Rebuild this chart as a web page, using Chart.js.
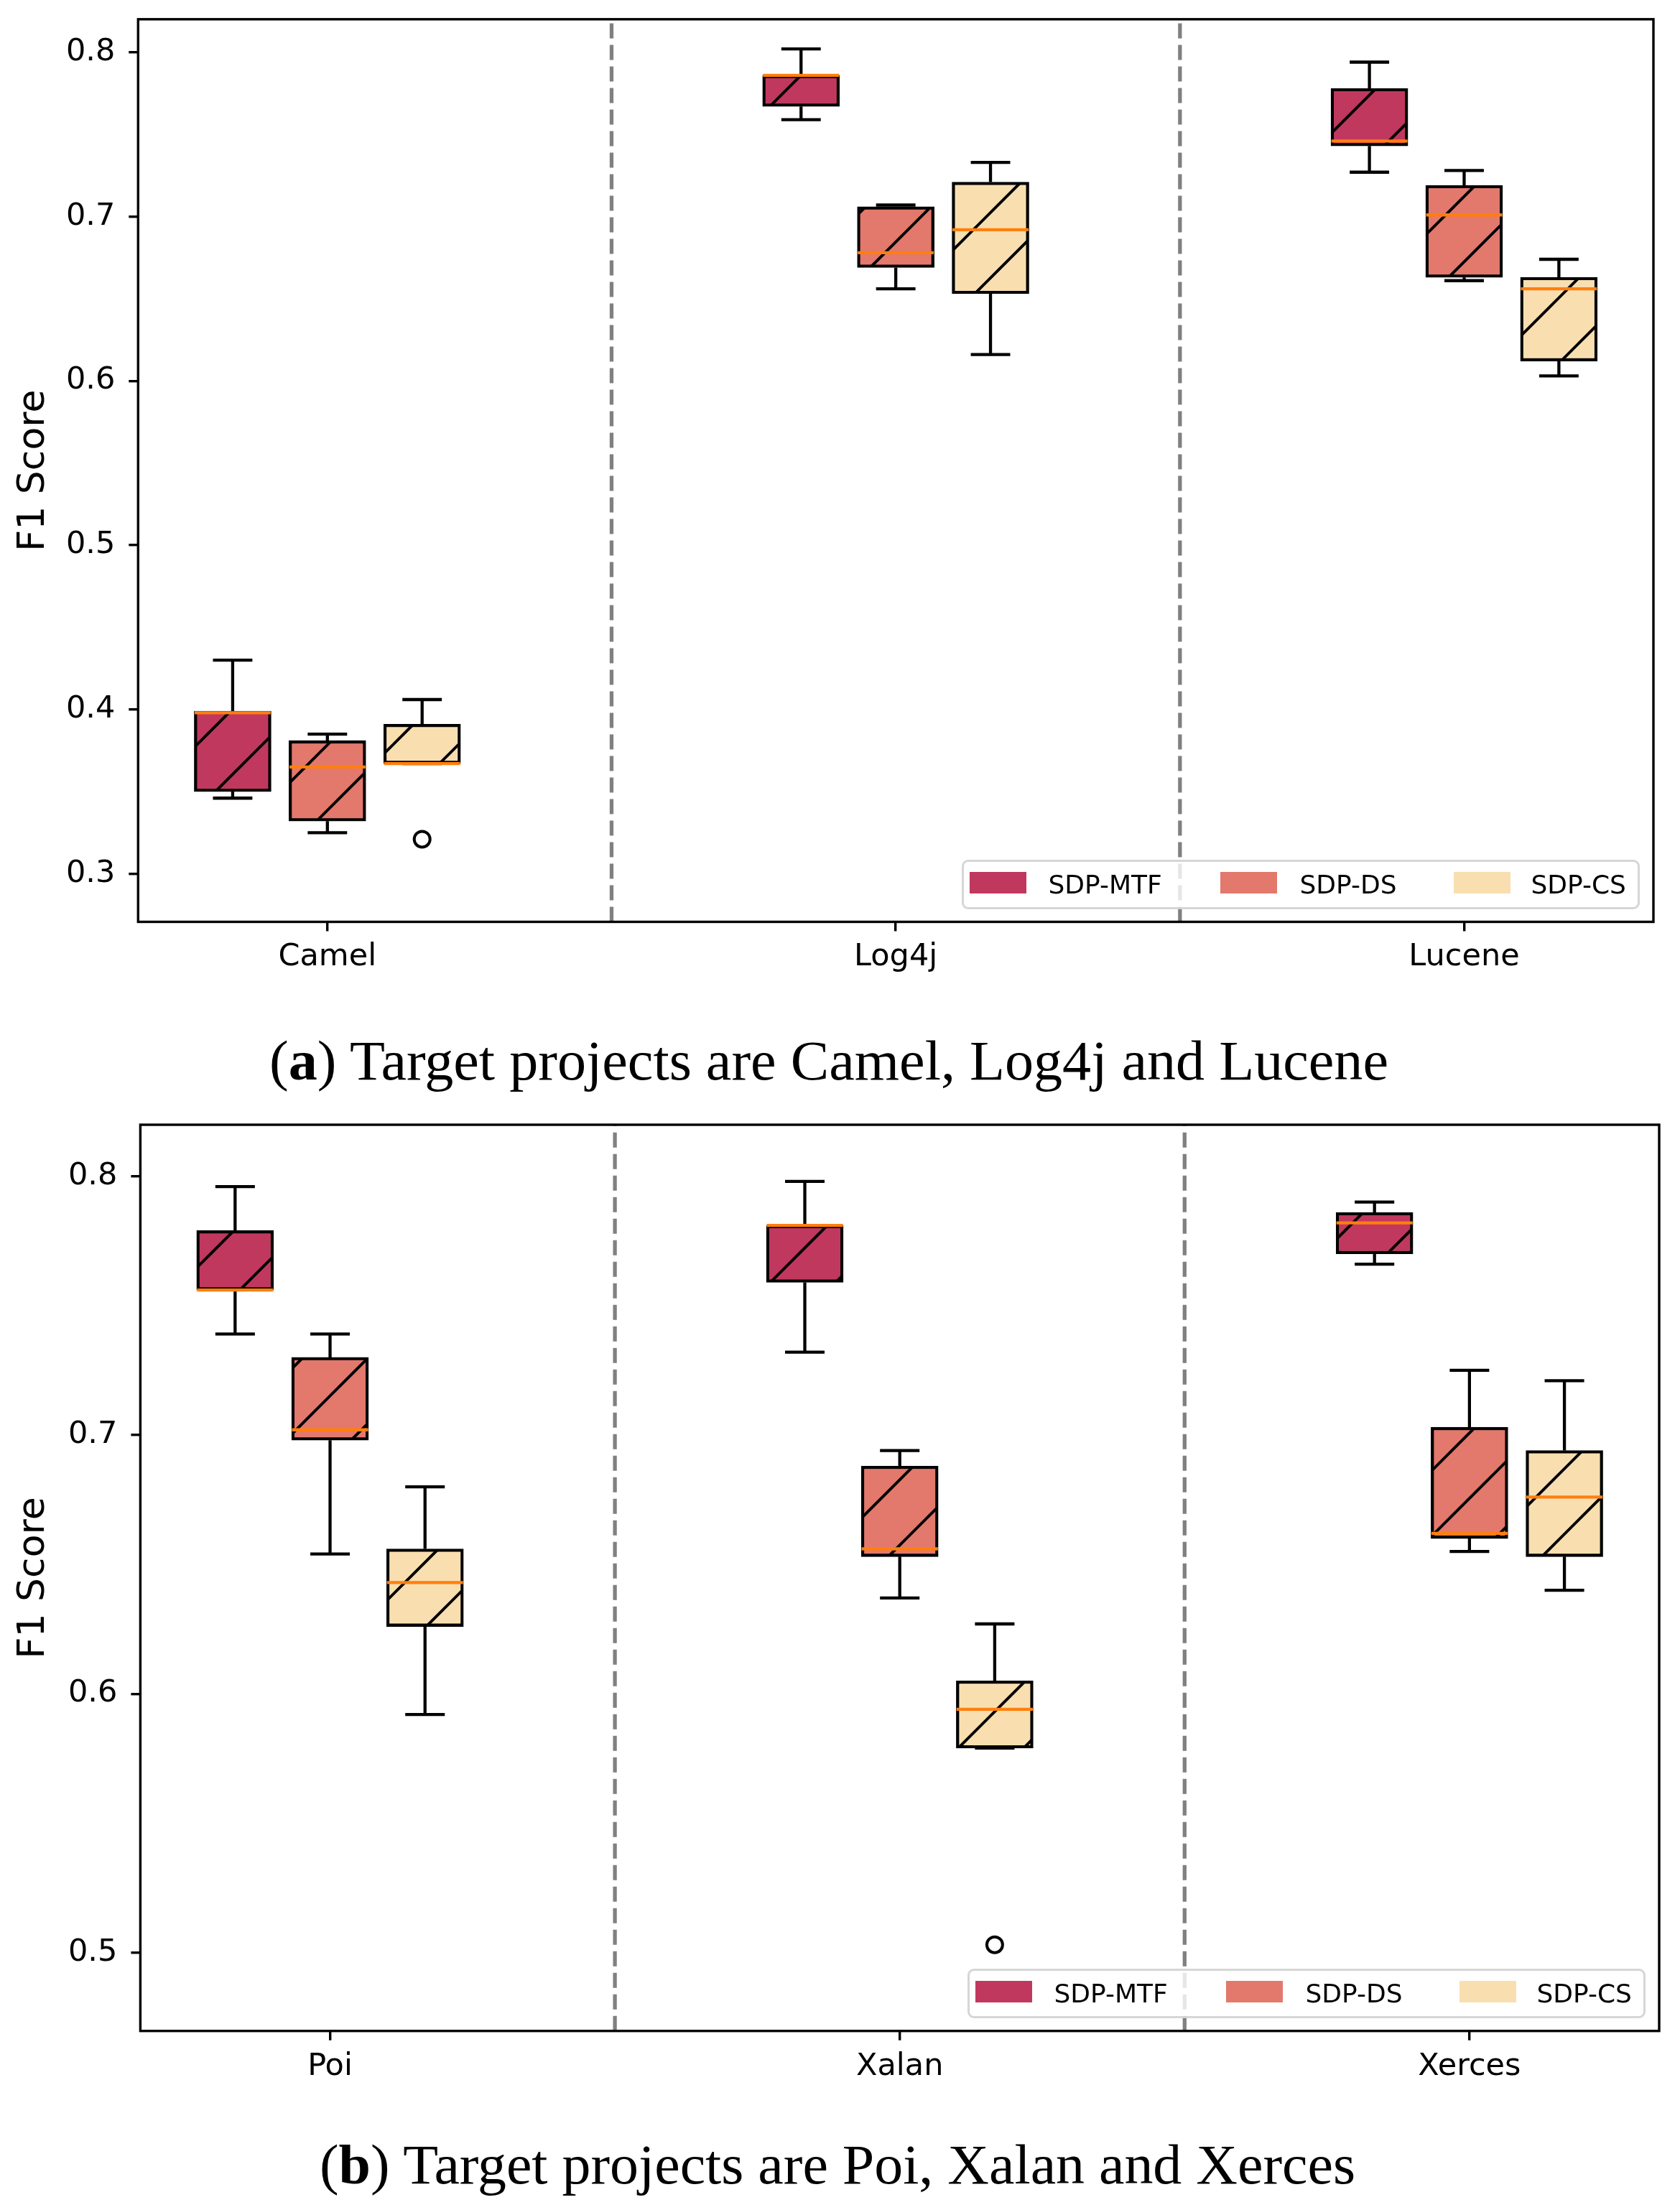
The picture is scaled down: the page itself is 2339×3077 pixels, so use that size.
<!DOCTYPE html>
<html>
<head>
<meta charset="utf-8">
<script src="https://cdn.jsdelivr.net/npm/chart.js@4.4.1/dist/chart.umd.min.js"></script>
<style>
  html, body { margin: 0; padding: 0; background: #fff; }
  body { width: 2339px; height: 3077px; position: relative; overflow: hidden; }
  canvas { position: absolute; left: 0; }
  .legend { position: absolute; width: 944px; height: 69px; box-sizing: border-box;
            border: 3px solid rgba(204,204,204,0.8); border-radius: 9px; background: rgba(255,255,255,0.8);
            font-family: 'DejaVu Sans', sans-serif; font-size: 36px; color: #000; }
  .legend .sw { position: absolute; top: 14px; width: 79px; height: 30px; }
  .legend .lb { position: absolute; top: 0; line-height: 63px; white-space: nowrap; }
  .cap { position: absolute; white-space: nowrap; font-family: 'Liberation Serif', serif; font-size: 78px;
         line-height: 78px; color: #000; transform-origin: 0 0; }
</style>
</head>
<body>
<canvas id="chartA" width="2339" height="1380" style="top:0px;width:2339px;height:1380px"></canvas>
<canvas id="chartB" width="2339" height="1380" style="top:1540px;width:2339px;height:1380px"></canvas>
<div class="legend" id="legendA"></div>
<div class="legend" id="legendB"></div>
<div class="cap" id="capA" style="left:375px;top:1438px"><span>(<b>a</b>) Target projects are Camel, Log4j and Lucene</span></div>
<div class="cap" id="capB" style="left:445px;top:2975px"><span>(<b>b</b>) Target projects are Poi, Xalan and Xerces</span></div>
<script>
const methods = ['SDP-MTF', 'SDP-DS', 'SDP-CS'];
const colors = ['#C0385E', '#E3786C', '#F9DFB0'];

// each row: [low whisker, Q1, median, Q3, high whisker]
const projectsA = ['Camel', 'Log4j', 'Lucene'];
const mtfA = [[0.346, 0.350, 0.398, 0.399, 0.430], [0.759, 0.767, 0.786, 0.786, 0.802], [0.727, 0.743, 0.746, 0.778, 0.794]];
const dsA  = [[0.325, 0.332, 0.365, 0.381, 0.385], [0.656, 0.669, 0.678, 0.706, 0.707], [0.661, 0.663, 0.701, 0.719, 0.728]];
const csA  = [[0.367, 0.367, 0.367, 0.391, 0.406], [0.616, 0.653, 0.692, 0.721, 0.733], [0.603, 0.612, 0.656, 0.663, 0.674]];
const mtfOutA = [[], [], []];
const dsOutA  = [[], [], []];
const csOutA  = [[0.321], [], []];
const yTicksA = [0.3, 0.4, 0.5, 0.6, 0.7, 0.8];
const yRangeA = [0.2707, 0.8201];

const projectsB = ['Poi', 'Xalan', 'Xerces'];
const mtfB = [[0.739, 0.756, 0.756, 0.779, 0.796], [0.732, 0.759, 0.781, 0.781, 0.798], [0.766, 0.770, 0.782, 0.786, 0.790]];
const dsB  = [[0.654, 0.698, 0.702, 0.730, 0.739], [0.637, 0.653, 0.656, 0.688, 0.694], [0.655, 0.660, 0.662, 0.703, 0.725]];
const csB  = [[0.592, 0.626, 0.643, 0.656, 0.680], [0.579, 0.579, 0.594, 0.605, 0.627], [0.640, 0.653, 0.676, 0.694, 0.721]];
const mtfOutB = [[], [], []];
const dsOutB  = [[], [], []];
const csOutB  = [[], [0.503], []];
const yTicksB = [0.5, 0.6, 0.7, 0.8];
const yRangeB = [0.4697, 0.8199];

const OFFSETS = [-1 / 6, 0, 1 / 6];
const BOX_W = 0.1338;
const CAP_W = 0.0694;

Chart.defaults.font.family = "'DejaVu Sans', sans-serif";
Chart.defaults.color = '#000';

function hatch(ctx, color, canvasTop) {
  const p = 91;
  const tile = document.createElement('canvas');
  tile.width = p; tile.height = p;
  const g = tile.getContext('2d');
  g.fillStyle = color;
  g.fillRect(0, 0, p, p);
  g.strokeStyle = '#000';
  g.lineWidth = 4;
  const phase = (((37 - canvasTop) % p) + p) % p;
  for (let k = -1; k <= 2; k++) {
    const s = phase + k * p;
    g.beginPath();
    g.moveTo(-p, s + p);
    g.lineTo(s + p, -p);
    g.stroke();
  }
  return ctx.createPattern(tile, 'repeat');
}

// list of [x0, y0, x1, y1] -> points with gaps between segments
function segs(list) {
  const out = [];
  list.forEach(([x0, y0, x1, y1]) => {
    out.push({x: x0, y: y0}, {x: x1, y: y1}, {x: x1, y: null});
  });
  return out;
}

const framePlugin = {
  id: 'frame',
  afterDraw(chart) {
    const {ctx, chartArea: a} = chart;
    ctx.save();
    ctx.strokeStyle = '#000';
    ctx.lineWidth = 3.4;
    ctx.strokeRect(a.left, a.top, a.right - a.left, a.bottom - a.top);
    ctx.restore();
  }
};

function buildChart(id, canvasTop, projects, boxes, outs, yTicks, yRange, lay) {
  const canvas = document.getElementById(id);
  const ctx = canvas.getContext('2d');

  const whisk = [], med = [], fliers = [];
  boxes.forEach((rows, m) => {
    rows.forEach((r, i) => {
      const xc = i + OFFSETS[m];
      whisk.push([xc, r[3], xc, r[4]], [xc, r[1], xc, r[0]],
                 [xc - CAP_W / 2, r[4], xc + CAP_W / 2, r[4]],
                 [xc - CAP_W / 2, r[0], xc + CAP_W / 2, r[0]]);
      med.push([xc - BOX_W / 2, r[2], xc + BOX_W / 2, r[2]]);
      outs[m][i].forEach(v => fliers.push({x: xc, y: v}));
    });
  });

  const lineBase = {type: 'line', pointRadius: 0, pointHoverRadius: 0, fill: false, tension: 0, spanGaps: false};

  const datasets = [
    ...boxes.map((rows, m) => ({
      type: 'bar',
      label: methods[m],
      order: 3,
      data: rows.map((r, i) => ({x: i + OFFSETS[m], y: [r[1], r[3]]})),
      backgroundColor: hatch(ctx, colors[m], canvasTop),
      borderColor: '#000',
      borderWidth: 4.3,
      borderSkipped: false,
      grouped: false,
      barPercentage: 1,
      categoryPercentage: 1,
      maxBarThickness: 107
    })),
    {...lineBase, label: 'sep', order: 4, data: segs([[0.5, yRange[0], 0.5, yRange[1]], [1.5, yRange[0], 1.5, yRange[1]]]),
     borderColor: '#808080', borderWidth: 5.3, borderDash: [21, 9]},
    {...lineBase, label: 'whiskers', order: 2, data: segs(whisk), borderColor: '#000', borderWidth: 4.3},
    {...lineBase, label: 'medians', order: 1, data: segs(med), borderColor: '#FF7F0E', borderWidth: 4.3},
    {...lineBase, label: 'fliers', order: 0, data: fliers, showLine: false, pointRadius: 11,
     pointBorderWidth: 4, pointBorderColor: '#000', pointBackgroundColor: 'rgba(0,0,0,0)'}
  ];

  const tickGrid = {offset: false, drawOnChartArea: false, drawTicks: true, tickLength: 13, lineWidth: 3.4, color: '#000'};

  return new Chart(canvas, {
    type: 'bar',
    data: {datasets},
    options: {
      responsive: false,
      maintainAspectRatio: false,
      devicePixelRatio: 1,
      animation: false,
      events: [],
      layout: {padding: {top: lay.padTop, right: lay.padRight, left: 0, bottom: 0}},
      plugins: {legend: {display: false}, tooltip: {enabled: false}},
      scales: {
        x: {
          type: 'linear', min: -0.333, max: 2.333, offset: false,
          grid: tickGrid,
          border: {display: false},
          ticks: {font: {size: 43}, color: '#000', padding: 11, maxRotation: 0, autoSkip: false,
                  callback: (v) => projects[v] ?? ''},
          afterBuildTicks: (s) => { s.ticks = projects.map((_, i) => ({value: i})); },
          afterFit: (s) => { s.height = lay.xAxisHeight; s.paddingLeft = 0; s.paddingRight = 0; }
        },
        y: {
          type: 'linear', min: yRange[0], max: yRange[1],
          grid: tickGrid,
          border: {display: false},
          ticks: {font: {size: 43}, color: '#000', padding: 19, callback: (v) => v.toFixed(1)},
          title: {display: true, text: 'F1 Score', font: {size: 52}, color: '#000', padding: {top: 16, bottom: 0}},
          afterBuildTicks: (s) => { s.ticks = yTicks.map(v => ({value: v})); },
          afterFit: (s) => { s.width = lay.yAxisWidth; s.paddingTop = 0; s.paddingBottom = 0; }
        }
      }
    },
    plugins: [framePlugin]
  });
}

function placeLegend(el, chart, canvasTop) {
  const a = chart.chartArea;
  el.style.left = (a.right - 19.5 - 944) + 'px';
  el.style.top = (canvasTop + a.bottom - 18 - 69) + 'px';
  const swLeft = [8, 357, 682], lbLeft = [118, 468, 790];
  methods.forEach((m, i) => {
    const sw = document.createElement('div');
    sw.className = 'sw';
    sw.style.left = swLeft[i] + 'px';
    sw.style.background = colors[i];
    const lb = document.createElement('div');
    lb.className = 'lb';
    lb.style.left = lbLeft[i] + 'px';
    lb.textContent = m;
    el.appendChild(sw);
    el.appendChild(lb);
  });
}

const chartA = buildChart('chartA', 0, projectsA, [mtfA, dsA, csA], [mtfOutA, dsOutA, csOutA], yTicksA, yRangeA,
  {padTop: 26.8, padRight: 37, yAxisWidth: 192.3, xAxisHeight: 96.5});
const chartB = buildChart('chartB', 1540, projectsB, [mtfB, dsB, csB], [mtfOutB, dsOutB, csOutB], yTicksB, yRangeB,
  {padTop: 26, padRight: 29, yAxisWidth: 195.4, xAxisHeight: 92.3});

placeLegend(document.getElementById('legendA'), chartA, 0);
placeLegend(document.getElementById('legendB'), chartB, 1540);

[['capA', 1558], ['capB', 1442]].forEach(([id, w]) => {
  const el = document.getElementById(id);
  const nat = el.firstElementChild.getBoundingClientRect().width;
  el.style.transform = 'scaleX(' + (w / nat) + ')';
});
</script>
</body>
</html>
